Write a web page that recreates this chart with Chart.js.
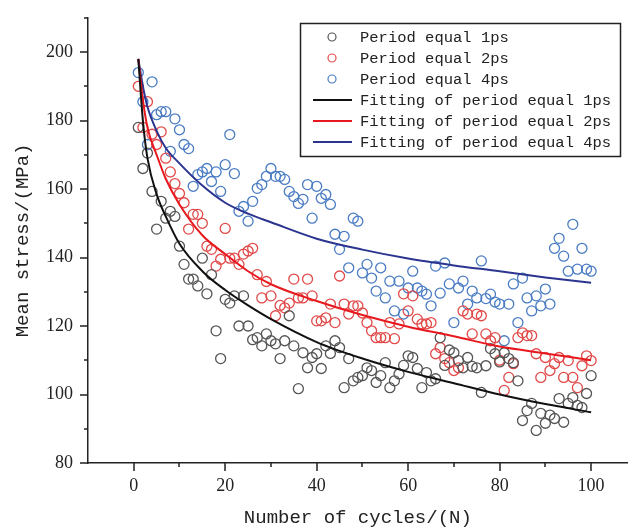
<!DOCTYPE html>
<html>
<head>
<meta charset="utf-8">
<script src="https://cdn.jsdelivr.net/npm/chart.js@4.4.1/dist/chart.umd.min.js"></script>
<style>
  html, body { margin: 0; padding: 0; background: #fff; }
  #wrap { width: 634px; height: 529px; }
</style>
</head>
<body>
<div id="wrap"><canvas id="stressChart"></canvas></div>
<script>
// cycle number of each simulated point
const cycles = [1,2,3,4,5,6,7,8,9,10,11,12,13,14,15,16,17,18,19,20,
  21,22,23,24,25,26,27,28,29,30,31,32,33,34,35,36,37,38,39,40,
  41,42,43,44,45,46,47,48,49,50,51,52,53,54,55,56,57,58,59,60,
  61,62,63,64,65,66,67,68,69,70,71,72,73,74,75,76,77,78,79,80,
  81,82,83,84,85,86,87,88,89,90,91,92,93,94,95,96,97,98,99,100];

// mean stress (MPa)
const stress1ps = [178,166,170.5,159.3,148.3,156.4,151.5,153.5,152,143.3,
  138,133.7,133.7,131.7,139.8,129.4,135,118.6,110.5,127.8,
  126.7,128.8,120,128.8,120,116,116.6,114.2,117.7,115.7,
  114.8,110.5,115.7,123,114.2,101.7,112.2,107.8,110.8,111.9,
  107.6,114.2,112,115.7,113.7,102,110.5,104,105,105.5,
  107.8,107,103.5,105.5,109.3,102,104,106,108.5,111.3,
  110.8,107.6,102,106.4,104,104.6,116.6,108.5,113,112.2,
  109.9,107.8,110.8,108.2,107.8,100.6,108.4,113.4,111.9,109.5,
  112.2,110.5,109.3,104,92.4,95.3,97.4,89.5,94.5,91.6,
  94,93,98.8,91.9,97.4,99.1,96.8,96.2,100.3,105.5];

const stress2ps = [190,178,185.5,176,173,176.7,169,165,161.6,158.7,
  156,148.3,152.6,152.6,150,143.3,142.4,137.5,139.5,148.5,
  139.8,139.8,138,141,141.9,142.7,135,128.2,133,128.8,
  123,126,125.3,126.7,133.7,128.2,128.2,133.7,128.8,121.5,
  121.5,122.4,126.4,121,134.6,126.4,123.5,125.9,125.9,123.8,
  121,118.6,116.6,116.6,116.6,121,116.3,120.6,129.4,124.4,
  128.8,122,120.6,120.6,121,111.9,113.7,110.5,109.3,107,
  107.8,124.4,123.5,117.7,123.5,123,117.7,115.7,116.6,110,
  101.2,105,109,116.6,118,117.2,117.2,111.9,105,110.8,
  107,109,110.8,105,109.9,105,102,108.4,111.3,109.9];

const stress4ps = [194,185.5,173,191.3,181.7,182.6,182.6,171,180.5,177.3,
  173,171.8,160.8,164.2,165,166,162.2,165,159.3,167.1,
  175.9,164.5,153.5,154.9,150.6,156.4,160.2,161.3,163.7,166,
  163.7,163.7,162.8,159.3,157.8,155.8,157,161.3,151.5,160.8,
  157.3,158.4,155.5,146.8,142.4,146.2,137,151.5,150.6,135.5,
  138,134,130.2,137,128.2,133.1,124.4,133.1,123.5,131.1,
  136,131.1,130.2,129.3,125.9,137.5,129.6,138.4,132.3,121,
  131.1,133.1,126.4,130.2,128.2,139,128,129.3,127,126.4,
  115.7,126.4,132.3,121,134,128.2,124.4,128.8,125.9,130.8,
  126.4,142.7,145.6,140.4,136,149.7,136.6,142.7,136.6,136];

// fitted curves, sampled from the plot
const fitCycles = [1,2,3,5,7,10,15,20,25,30,40,50,60,70,80,90,100];
const fit1ps = [198,180,169,158.5,152,144,136,130.5,126,122,115.3,110.5,106.6,103.3,100,97.2,94.8];
const fit2ps = [198,186,178,170,163,155.5,146.5,141,136,132.2,127.3,123.2,119.8,117,114,112,110];
const fit4ps = [198,190,184,177,172,167.5,161,156,152.8,150.3,145.5,142.3,139.7,137.7,136,134.2,132.6];

// tick positions (majors carry a label)
const xTickValues = [0,10,20,30,40,50,60,70,80,90,100];
const xTickLabels = [0, 20, 40, 60, 80, 100];
const yTickValues = [80,90,100,110,120,130,140,150,160,170,180,190,200,210];
const yTickLabels = [80, 100, 120, 140, 160, 180, 200];

const pts = (xs, ys) => xs.map((x, i) => ({ x: x, y: ys[i] }));

const scatterSet = (label, data, color) => ({
  type: 'scatter', label, data, order: 2,
  pointStyle: 'circle', pointRadius: 5, pointHoverRadius: 5,
  pointBorderWidth: 1.3, borderColor: color, backgroundColor: 'rgba(0,0,0,0)'
});
const fitSet = (label, data, color) => ({
  type: 'line', label, data, order: 1,
  borderColor: color, borderWidth: 2, pointRadius: 0,
  cubicInterpolationMode: 'monotone', fill: false
});

// legend box drawn inside the plot, like the original figure
const boxLegend = {
  id: 'boxLegend',
  afterDraw(chart) {
    const { ctx } = chart;
    ctx.save();
    ctx.strokeStyle = '#222';
    ctx.lineWidth = 1.5;
    ctx.fillStyle = '#fff';
    ctx.fillRect(300, 23, 321, 134);
    ctx.strokeRect(300.5, 23.5, 320, 133);
    ctx.font = '15.5px "Liberation Mono", monospace';
    ctx.textBaseline = 'middle';
    chart.data.datasets.forEach((ds, i) => {
      const cy = 37 + i * 21;
      ctx.strokeStyle = ds.borderColor;
      if (ds.type === 'scatter') {
        ctx.lineWidth = 1.2;
        ctx.beginPath();
        ctx.arc(332, cy, 4, 0, Math.PI * 2);
        ctx.stroke();
      } else {
        ctx.lineWidth = 2;
        ctx.beginPath();
        ctx.moveTo(313, cy);
        ctx.lineTo(352, cy);
        ctx.stroke();
      }
      ctx.fillStyle = '#222';
      ctx.fillText(ds.label, 360, cy + 1);
    });
    ctx.restore();
  }
};

// major / minor tick marks outside the axes
const axisTicks = {
  id: 'axisTicks',
  afterDraw(chart) {
    const { ctx, chartArea, scales: { x, y } } = chart;
    ctx.save();
    ctx.strokeStyle = '#222';
    ctx.lineWidth = 1.5;
    ctx.beginPath();
    xTickValues.forEach(v => {
      const len = xTickLabels.includes(v) ? 8 : 4;
      const px = Math.round(x.getPixelForValue(v));
      ctx.moveTo(px, chartArea.bottom);
      ctx.lineTo(px, chartArea.bottom + len);
    });
    yTickValues.forEach(v => {
      const len = yTickLabels.includes(v) ? 8 : 4;
      const py = Math.round(y.getPixelForValue(v));
      ctx.moveTo(chartArea.left, py);
      ctx.lineTo(chartArea.left - len, py);
    });
    ctx.stroke();
    ctx.restore();
  }
};

const tickFont = { family: '"Liberation Serif", serif', size: 18 };
const titleFont = { family: '"Liberation Mono", monospace', size: 19 };

new Chart(document.getElementById('stressChart'), {
  data: {
    datasets: [
      scatterSet('Period equal 1ps', pts(cycles, stress1ps), '#555555'),
      scatterSet('Period equal 2ps', pts(cycles, stress2ps), '#e24a4a'),
      scatterSet('Period equal 4ps', pts(cycles, stress4ps), '#4a7cc4'),
      fitSet('Fitting of period equal 1ps', pts(fitCycles, fit1ps), '#111111'),
      fitSet('Fitting of period equal 2ps', pts(fitCycles, fit2ps), '#e8191e'),
      fitSet('Fitting of period equal 4ps', pts(fitCycles, fit4ps), '#2b3590')
    ]
  },
  options: {
    responsive: true,
    maintainAspectRatio: false,
    animation: false,
    layout: { padding: { top: 15, right: 1, left: 0, bottom: 0 } },
    plugins: { legend: { display: false }, tooltip: { enabled: false } },
    scales: {
      x: {
        type: 'linear', min: -10, max: 108,
        afterBuildTicks: s => { s.ticks = xTickLabels.map(v => ({ value: v })); },
        afterFit: s => { s.height = 66; },
        grid: { drawOnChartArea: false, tickLength: 8, tickColor: 'rgba(0,0,0,0)' },
        border: { color: '#222', width: 1.5 },
        ticks: {
          autoSkip: false, maxRotation: 0, padding: 4,
          color: '#222', font: tickFont,
          callback: v => String(v)
        },
        title: { display: true, text: 'Number of cycles/(N)', color: '#222',
                 font: titleFont, padding: { top: 0, bottom: 0 } }
      },
      y: {
        type: 'linear', min: 80, max: 210,
        afterBuildTicks: s => { s.ticks = yTickLabels.map(v => ({ value: v })); },
        afterFit: s => { s.width = 88; },
        grid: { drawOnChartArea: false, tickLength: 8, tickColor: 'rgba(0,0,0,0)' },
        border: { color: '#222', width: 1.5 },
        ticks: {
          autoSkip: false, padding: 7,
          color: '#222', font: tickFont,
          callback: v => String(v)
        },
        title: { display: true, text: 'Mean stress/(MPa)', color: '#222',
                 font: titleFont, padding: { top: 12, bottom: 0 } }
      }
    }
  },
  plugins: [axisTicks, boxLegend]
});
</script>
</body>
</html>
